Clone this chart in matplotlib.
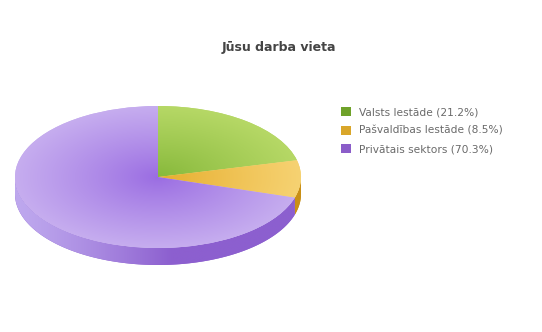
import matplotlib.pyplot as plt
import matplotlib.patches as mpatches
from matplotlib.colors import to_rgb
import numpy as np

title = "Jūsu darba vieta"
categories = ["Valsts Iestāde", "Pašvaldības Iestāde", "Privātais sektors"]
shares = [21.2, 8.5, 70.3]

# top face: colour at the centre and at the rim, side colours, legend swatch
top_inner = ["#86b83a", "#e6ad2c", "#9a6ce2"]
top_outer = ["#b6d866", "#f6d272", "#c6adef"]
side_light = ["#7aa830", "#dca52a", "#bea8ee"]
side_dark = ["#5f8f1e", "#c98f16", "#8c5fcf"]
swatch = ["#6fa22a", "#d9a62a", "#8b5dc9"]

W, H = 542, 332
fig = plt.figure(figsize=(W / 100, H / 100), dpi=100)
fig.patch.set_facecolor("white")

# pie centre (158,177) px, radii 143 x 71 px, rim depth 17 px
cx, cy, rx, ry, dpx = 158, 177, 143, 71, 17
depth = dpx / ry
ax = fig.add_axes([(cx - rx) / W, (H - cy - ry - dpx) / H,
                   2 * rx / W, (2 * ry + dpx) / H])

wedges, _ = ax.pie(shares, startangle=90, counterclock=False, radius=1,
                   colors=top_outer, wedgeprops=dict(linewidth=0))
ax.set_aspect("auto")
ax.axis("off")


def blend(c1, c2, t):
    a = np.array(to_rgb(c1))
    b = np.array(to_rgb(c2))
    t = np.clip(t, 0, 1)[..., None]
    return a * (1 - t) + b * t


# radial shading on the top face
n = 300
gx, gy = np.meshgrid(np.linspace(-1, 1, n), np.linspace(1, -1, n))
rr = np.sqrt(gx ** 2 + gy ** 2)
for i, w in enumerate(wedges):
    w.set_zorder(3)
    img = blend(top_inner[i], top_outer[i], rr ** 0.9)
    im = ax.imshow(img, extent=(-1, 1, -1, 1), aspect="auto", zorder=4,
                   interpolation="bilinear")
    im.set_clip_path(w)

# rim: the front (lower) part of each slice, pushed down by depth
for i, w in enumerate(wedges):
    t1, t2 = w.theta1 % 360, w.theta2 % 360
    if t2 <= t1:
        t2 += 360
    for off in (0, 360):
        a = max(t1, 180 + off)
        b = min(t2, 360 + off)
        if b <= a:
            continue
        t = np.radians(np.linspace(a, b, 120))
        xs = np.concatenate([np.cos(t), np.cos(t[::-1])])
        ys = np.concatenate([np.sin(t), np.sin(t[::-1]) - depth])
        side = mpatches.Polygon(np.column_stack([xs, ys]), closed=True,
                                facecolor=side_dark[i], linewidth=0,
                                zorder=1)
        ax.add_patch(side)
        sx = np.linspace(-1, 1, n)
        g = np.clip((sx + 1) / 1.1, 0, 1) ** 1.3
        img = blend(side_light[i], side_dark[i], np.tile(g, (40, 1)))
        im = ax.imshow(img, extent=(-1, 1, -1 - depth, 0), aspect="auto",
                       zorder=2, interpolation="bilinear")
        im.set_clip_path(side)

ax.set_xlim(-1, 1)
ax.set_ylim(-1 - depth, 1)

fig.text(279 / W, 1 - 47 / H, title, ha="center", va="center",
         fontsize=9, fontweight="bold", color="#444444")

handles = [mpatches.Patch(facecolor=c, edgecolor="none") for c in swatch]
labels = [f"{c} ({v}%)" for c, v in zip(categories, shares)]
fig.legend(handles, labels, loc="upper left",
           bbox_to_anchor=(341 / W, 1 - 107 / H), frameon=False,
           fontsize=7.7, handlelength=0.9, handleheight=0.9,
           handletextpad=0.75, labelspacing=0.8, labelcolor="#6a6a6a",
           borderpad=0, borderaxespad=0)

fig.savefig("out.png", dpi=100, facecolor="white")
